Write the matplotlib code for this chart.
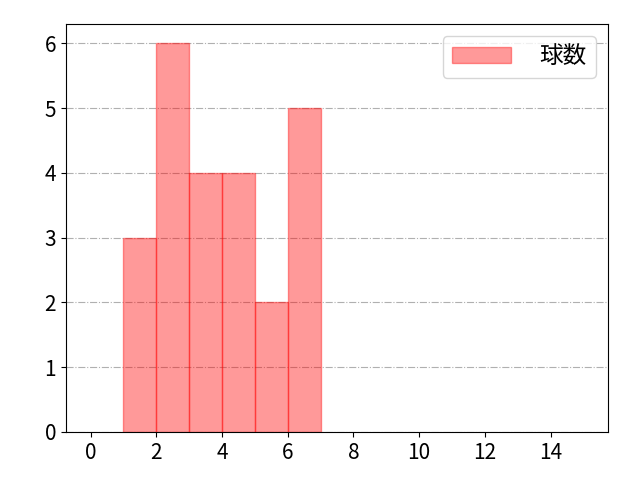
import matplotlib.pyplot as plt

plt.rcParams['font.family'] = ['Noto Sans CJK JP', 'DejaVu Sans']

# ヒストグラムのデータ
bin_left = [1, 2, 3, 4, 5, 6]
counts = [3, 6, 4, 4, 2, 5]

fig, ax = plt.subplots(figsize=(6.4, 4.8), dpi=100)
ax.bar(bin_left, counts, width=1.0, align='edge', color='#ff0000', alpha=0.4,
       edgecolor='#ff0000', linewidth=1.0, label='球数')
ax.set_xlim(-0.75, 15.75)
ax.set_ylim(0, 6.3)
ax.set_xticks(range(0, 15, 2))
ax.set_yticks(range(0, 7))
ax.tick_params(labelsize=15)
ax.grid(axis='y', linestyle='-.', color='#b0b0b0', linewidth=0.8)
ax.set_axisbelow(True)
ax.legend(loc='upper right', fontsize=17, handlelength=2.5, handletextpad=1.2)
fig.subplots_adjust(left=0.103, right=0.95, top=0.95, bottom=0.1)
plt.savefig('out.png')
